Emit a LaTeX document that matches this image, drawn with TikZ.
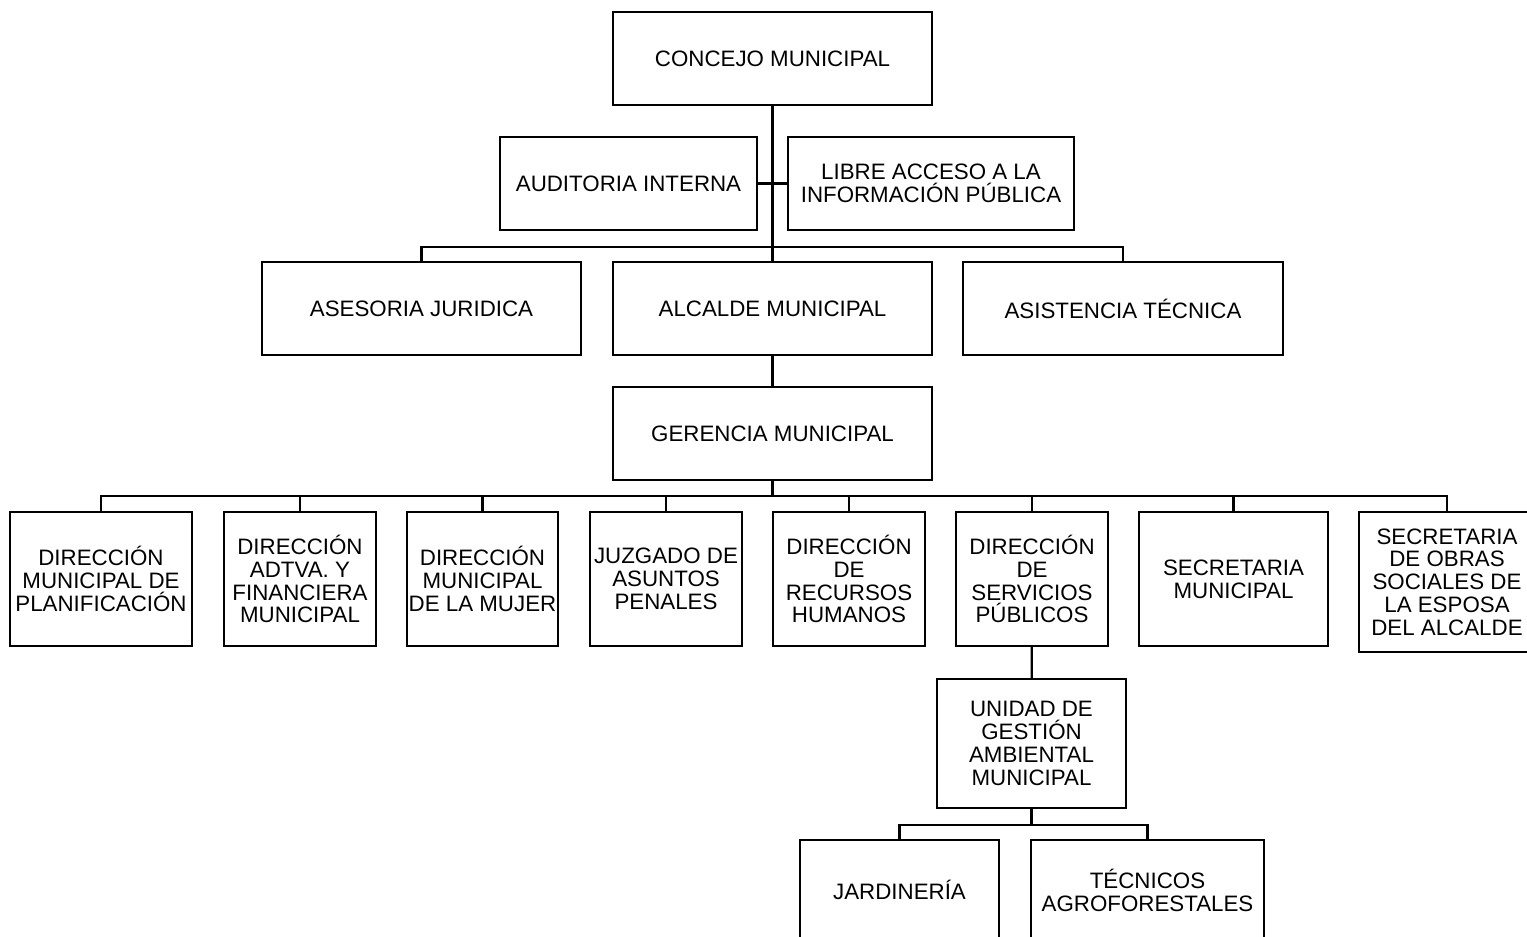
\documentclass[tikz,border=0pt]{standalone}
\usepackage{fontspec}
\setmainfont{Liberation Sans}
\usepackage{tikz}
\tikzset{org/.style={draw, line width=1.3pt, align=center, inner sep=1pt,
    font=\fontsize{12.7}{13}\selectfont}}

\begin{document}
\begin{tikzpicture}[line width=1.3pt]
\clip (0,0) rectangle (30.54,-18.72);
\node[org, minimum width=6.38cm, minimum height=1.86cm] (concejo) at (15.45,-1.17) {CONCEJO MUNICIPAL};
\node[org, minimum width=5.14cm, minimum height=1.86cm] (auditoria) at (12.57,-3.67) {AUDITORIA INTERNA};
\node[org, minimum width=5.72cm, minimum height=1.86cm] (libre) at (18.62,-3.67) {LIBRE ACCESO A LA\\INFORMACIÓN PÚBLICA};
\node[org, minimum width=6.38cm, minimum height=1.86cm] (asesoria) at (8.43,-6.17) {ASESORIA JURIDICA};
\node[org, minimum width=6.38cm, minimum height=1.86cm] (alcalde) at (15.45,-6.17) {ALCALDE MUNICIPAL};
\node[org, minimum width=6.40cm, minimum height=1.86cm] (asistencia) at (22.46,-6.17) {ASISTENCIA TÉCNICA};
\node[org, minimum width=6.38cm, minimum height=1.86cm] (gerencia) at (15.45,-8.67) {GERENCIA MUNICIPAL};
\node[org, minimum width=3.64cm, minimum height=2.68cm] (d1) at (2.02,-11.58) {DIRECCIÓN\\MUNICIPAL DE\\PLANIFICACIÓN};
\node[org, minimum width=3.04cm, minimum height=2.68cm] (d2) at (6.00,-11.58) {DIRECCIÓN\\ADTVA. Y\\FINANCIERA\\MUNICIPAL};
\node[org, minimum width=3.02cm, minimum height=2.68cm] (d3) at (9.65,-11.58) {DIRECCIÓN\\MUNICIPAL\\DE LA MUJER};
\node[org, minimum width=3.04cm, minimum height=2.68cm] (d4) at (13.32,-11.58) {JUZGADO DE\\ASUNTOS\\PENALES};
\node[org, minimum width=3.04cm, minimum height=2.68cm] (d5) at (16.98,-11.58) {DIRECCIÓN\\DE\\RECURSOS\\HUMANOS};
\node[org, minimum width=3.04cm, minimum height=2.68cm] (d6) at (20.64,-11.58) {DIRECCIÓN\\DE\\SERVICIOS\\PÚBLICOS};
\node[org, minimum width=3.78cm, minimum height=2.68cm] (d7) at (24.67,-11.58) {SECRETARIA\\MUNICIPAL};
\node[org, minimum width=3.52cm, minimum height=2.80cm] (d8) at (28.94,-11.64) {SECRETARIA\\DE OBRAS\\SOCIALES DE\\LA ESPOSA\\DEL ALCALDE};
\node[org, minimum width=3.78cm, minimum height=2.58cm] (unidad) at (20.63,-14.87) {UNIDAD DE\\GESTIÓN\\AMBIENTAL\\MUNICIPAL};
\node[org, minimum width=3.98cm, minimum height=2.00cm] (jardineria) at (17.99,-17.80) {JARDINERÍA};
\node[org, minimum width=4.66cm, minimum height=2.00cm] (tecnicos) at (22.95,-17.80) {TÉCNICOS\\AGROFORESTALES};
\coordinate (b1) at (15.45,-4.94);
\coordinate (b2) at (15.45,-9.92);
\coordinate (b3) at (20.63,-16.50);
\draw (concejo) -- (alcalde);
\draw (auditoria) -- (libre);
\draw (asesoria.north) |- (b1) -| (asistencia.north);
\draw (alcalde) -- (gerencia);
\draw (gerencia) -- (b2);
\draw (d1.north) |- (b2) -| (d8.north);
\foreach \i in {d2,d3,d4,d5,d6,d7}
{
  \draw (\i.north) -- (\i.north |- b2);
}
\draw (d6) -- (unidad);
\draw (unidad) -- (b3);
\draw (jardineria.north) |- (b3) -| (tecnicos.north);
\end{tikzpicture}
\end{document}
